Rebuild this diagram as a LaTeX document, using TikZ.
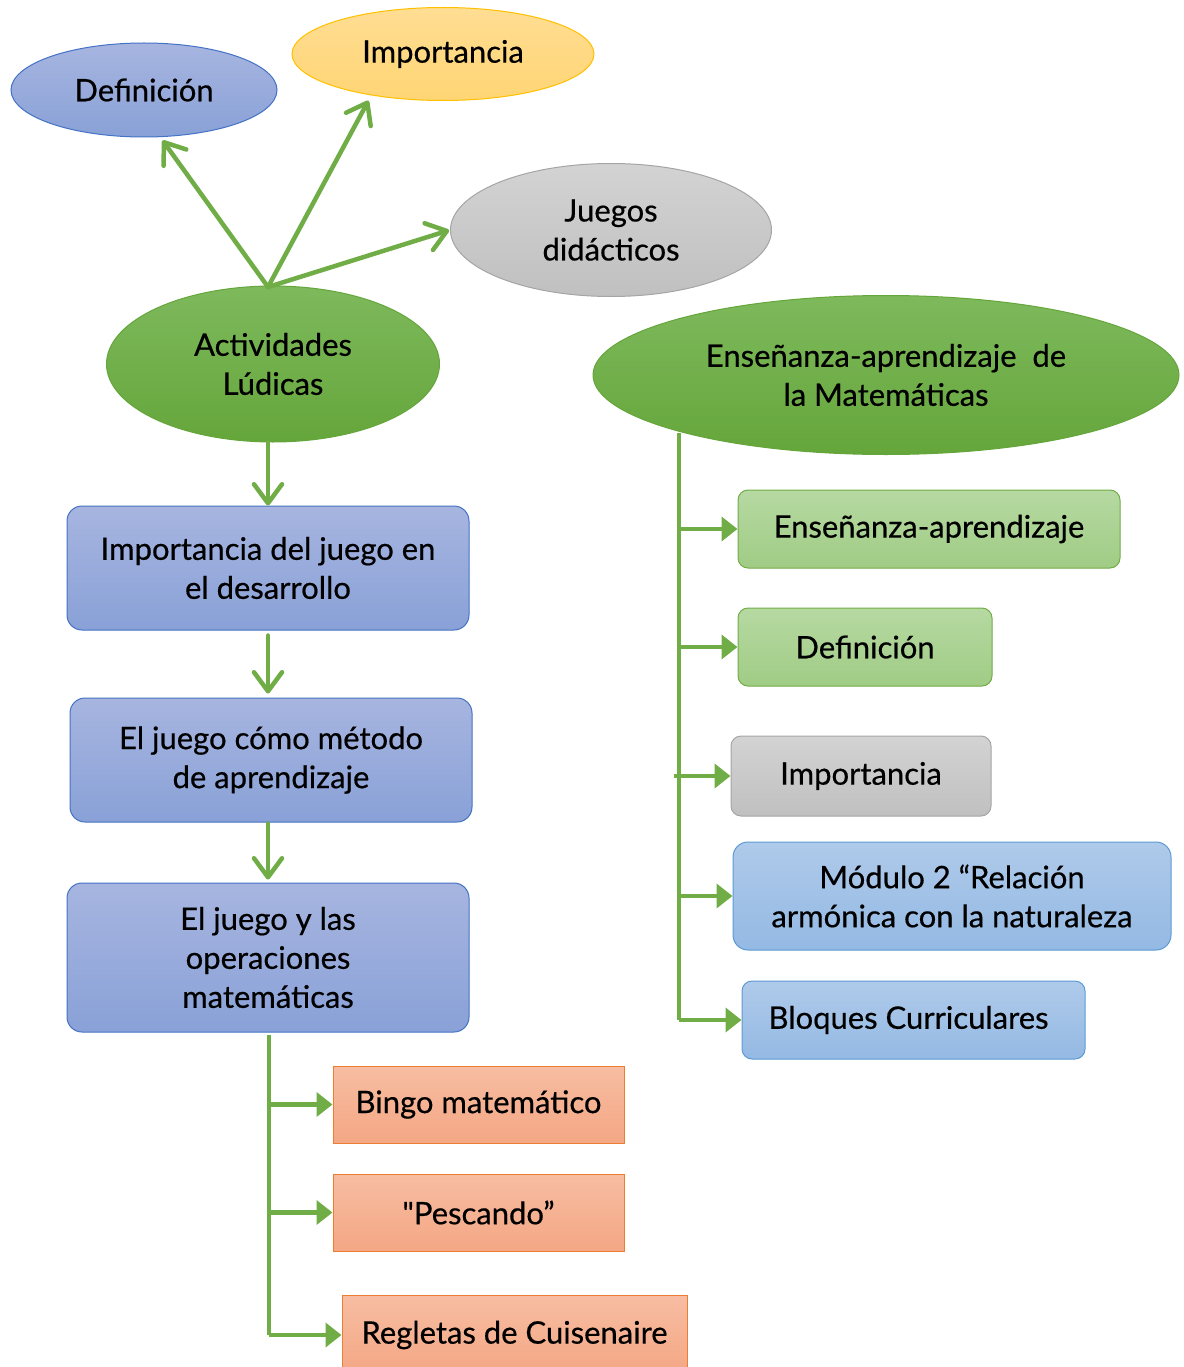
\documentclass[tikz,border=0pt]{standalone}
\usepackage{fontspec}
\setmainfont[FakeBold=0.5]{Lato}
\usetikzlibrary{shapes.geometric,arrows.meta,calc}
\definecolor{arrgreen}{HTML}{70AD47}
\definecolor{bluetop}{HTML}{A7B5E0}
\definecolor{bluebot}{HTML}{89A1D7}
\definecolor{blueedge}{HTML}{4472C4}
\definecolor{greentop}{HTML}{7EB95C}
\definecolor{greenbot}{HTML}{65A63B}
\definecolor{yeltop}{HTML}{FFDD93}
\definecolor{yelbot}{HTML}{FFD574}
\definecolor{yeledge}{HTML}{FFC000}
\definecolor{graytop}{HTML}{D3D3D3}
\definecolor{graybot}{HTML}{C0C0C0}
\definecolor{grayedge}{HTML}{A5A5A5}
\definecolor{lgtop}{HTML}{B6D9A2}
\definecolor{lgbot}{HTML}{A0CC85}
\definecolor{lbtop}{HTML}{AFCAEA}
\definecolor{lbbot}{HTML}{94B9E3}
\definecolor{lbedge}{HTML}{5B9BD5}
\definecolor{ortop}{HTML}{F7BDA2}
\definecolor{orbot}{HTML}{F4A784}
\definecolor{oredge}{HTML}{ED7D31}
\tikzset{
  txt/.style={font=\fontsize{31}{39}\selectfont, align=center, text=black},
  ell/.style={ellipse, inner sep=0pt, txt, line width=1pt},
  rbox/.style={rectangle, rounded corners=15pt, inner sep=0pt, txt, line width=1pt},
  sbox/.style={rectangle, inner sep=0pt, txt, line width=1pt},
  blues/.style={top color=bluetop, bottom color=bluebot, draw=blueedge},
  greens/.style={top color=greentop, bottom color=greenbot, draw=greenbot},
  yels/.style={top color=yeltop, bottom color=yelbot, draw=yeledge},
  grays/.style={top color=graytop, bottom color=graybot, draw=grayedge},
  lgreens/.style={top color=lgtop, bottom color=lgbot, draw=arrgreen},
  lblues/.style={top color=lbtop, bottom color=lbbot, draw=lbedge},
  oranges/.style={top color=ortop, bottom color=orbot, draw=oredge},
  barb/.style={draw=arrgreen, line width=4.5pt, line cap=round,
    -{Straight Barb[length=19pt,width=28pt,line cap=round,line join=round]}},
  tri/.style={draw=arrgreen, line width=4.5pt,
    -{Triangle[length=16pt,width=24pt]}},
  trunk/.style={draw=arrgreen, line width=4.5pt},
}
\begin{document}
\begin{tikzpicture}[x=1pt,y=-1pt]
\useasboundingbox (0,0) rectangle (1183,1367);
\clip (0,0) rectangle (1183,1367);
% top ellipses
\node[ell, blues, minimum width=266pt, minimum height=94pt] (def) at (144,90) {Definición};
\node[ell, yels, minimum width=302pt, minimum height=93pt] (imp) at (443,54) {Importancia};
\node[ell, grays, minimum width=321pt, minimum height=133pt] (jue) at (611,230) {Juegos\\didácticos};
\node[ell, greens, minimum width=333pt, minimum height=156pt] (act) at (273,364) {Actividades\\Lúdicas};
\node[ell, greens, minimum width=586pt, minimum height=159pt] (ens) at (886,375) {Enseñanza-aprendizaje\ \ de\\la Matemáticas};
% left column
\node[rbox, blues, minimum width=402pt, minimum height=124pt] (b1) at (268,568) {Importancia del juego en\\el desarrollo};
\node[rbox, blues, minimum width=402pt, minimum height=124pt] (b2) at (271,760) {El juego cómo método\\de aprendizaje};
\node[rbox, blues, minimum width=402pt, minimum height=149pt] (b3) at (268,957.5) {El juego y las\\operaciones\\matemáticas};
% bottom-left boxes
\node[sbox, oranges, minimum width=291pt, minimum height=77pt] (bingo) at (478.5,1104.5) {Bingo matemático};
\node[sbox, oranges, minimum width=291pt, minimum height=77pt] (pesc) at (478.5,1212.5) {{\addfontfeatures{Ligatures=TeXOff}"}Pescando”};
\node[sbox, oranges, minimum width=345pt, minimum height=80pt] (reg) at (514.5,1335) {Regletas de Cuisenaire};
% right column
\node[rbox, lgreens, rounded corners=10pt, minimum width=382pt, minimum height=78pt] (r1) at (929,529) {Enseñanza-aprendizaje};
\node[rbox, lgreens, rounded corners=10pt, minimum width=254pt, minimum height=78pt] (r2) at (865,647) {Definición};
\node[rbox, grays, rounded corners=10pt, minimum width=260pt, minimum height=80pt] (r3) at (861,776) {Importancia};
\node[rbox, lblues, rounded corners=15pt, minimum width=438pt, minimum height=108pt] (r4) at (952,896) {Módulo 2 “Relación\\armónica con la naturaleza};
\node[rbox, lblues, rounded corners=10pt, minimum width=343pt, minimum height=78pt] (r5) at (913.5,1020) {\hspace*{-10pt}Bloques Curriculares};
% arrows from Actividades
\coordinate (acttop) at (268,287);
\draw[barb, shorten >=4pt] (acttop) -- (def.-71);
\draw[barb, shorten >=6pt] (acttop) -- (imp.-150);
\draw[barb, shorten >=1pt] (acttop) -- (jue.west);
% vertical chain
\draw[barb] (act.south -| b1.north) -- (b1.north);
\draw[barb] ([yshift=-5pt]b1.south) -- ([xshift=-3pt,yshift=4pt]b2.north);
\draw[barb] ([xshift=-3pt,yshift=-1pt]b2.south) -- ([yshift=3pt]b3.north);
% bottom-left trunk
\draw[trunk] ([xshift=1pt,yshift=-2pt]b3.south) -- ([xshift=1pt]b3.south |- reg.west);
\draw[tri] ([xshift=1pt]b3.south |- bingo.west) -- (bingo.west);
\draw[tri] ([xshift=1pt]b3.south |- pesc.west) -- (pesc.west);
\draw[tri] ([xshift=1pt]b3.south |- reg.west) -- (reg.west);
% right trunk
\coordinate (rtop) at (679,433);
\draw[trunk] (rtop) -- (rtop |- r5.west);
\draw[tri] (rtop |- r1.west) -- (r1.west);
\draw[tri] (rtop |- r2.west) -- (r2.west);
\draw[tri] ([xshift=-5pt]rtop |- r3.west) -- (r3.west);
\draw[tri] (rtop |- r4.west) -- (r4.west);
\draw[tri] (rtop |- r5.west) -- (r5.west);
\end{tikzpicture}
\end{document}
